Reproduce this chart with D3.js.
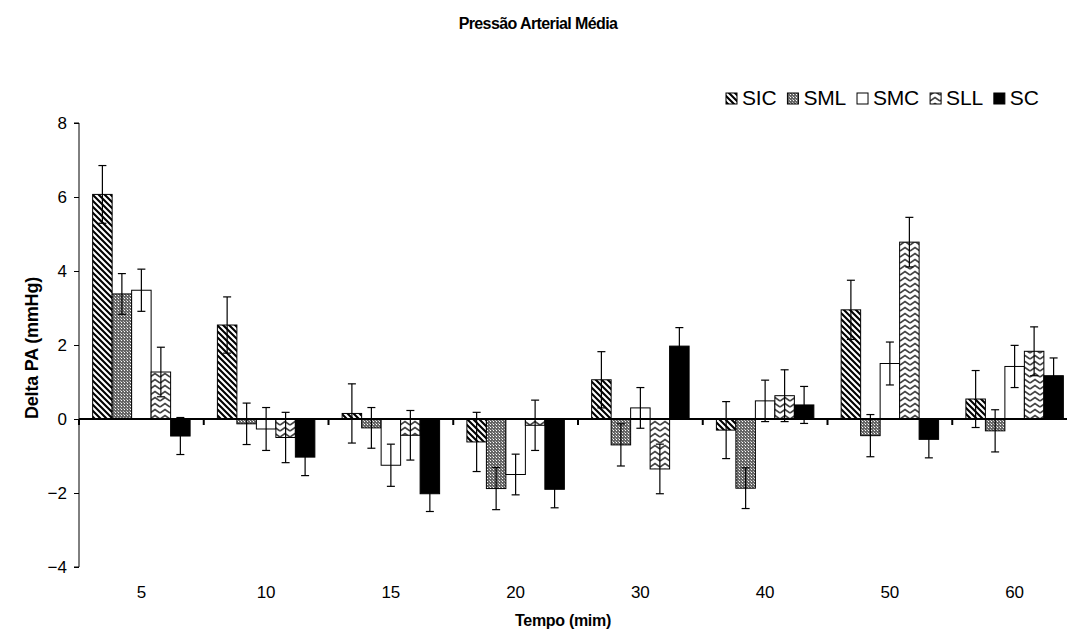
<!DOCTYPE html>
<html><head><meta charset="utf-8">
<script src="https://cdn.jsdelivr.net/npm/d3@7"></script>
<style>body{margin:0;background:#fff}svg{display:block;font-family:"Liberation Sans",Arial,sans-serif}</style>
</head><body><svg id="c" width="1067" height="631"></svg>
<script>
const categories = ["5","10","15","20","30","40","50","60"];
const seriesNames = ["SIC","SML","SMC","SLL","SC"];
const SIC = [6.07, 2.54, 0.15, -0.62, 1.06, -0.30, 2.95, 0.54];
const SML = [3.38, -0.13, -0.24, -1.88, -0.70, -1.87, -0.45, -0.32];
const SMC = [3.48, -0.27, -1.25, -1.50, 0.30, 0.49, 1.50, 1.42];
const SLL = [1.27, -0.50, -0.44, -0.17, -1.35, 0.63, 4.78, 1.83];
const SC  = [-0.46, -1.03, -2.02, -1.90, 1.97, 0.38, -0.55, 1.17];
const SIC_err = [0.78, 0.76, 0.80, 0.80, 0.76, 0.77, 0.80, 0.77];
const SML_err = [0.55, 0.56, 0.55, 0.57, 0.57, 0.55, 0.57, 0.57];
const SMC_err = [0.57, 0.58, 0.57, 0.55, 0.55, 0.56, 0.58, 0.57];
const SLL_err = [0.67, 0.68, 0.67, 0.68, 0.67, 0.70, 0.67, 0.66];
const SC_err  = [0.50, 0.50, 0.48, 0.50, 0.50, 0.50, 0.50, 0.48];
const yTicks = [-4,-2,0,2,4,6,8];
const titleText = "Pressão Arterial Média";
const xTitle = "Tempo (mim)";
const yTitle = "Delta PA (mmHg)";

const values = [SIC, SML, SMC, SLL, SC];
const errs = [SIC_err, SML_err, SMC_err, SLL_err, SC_err];

const svg = d3.select("#c");
const defs = svg.append("defs");
const pSIC = defs.append("pattern").attr("id","pSIC").attr("patternUnits","userSpaceOnUse").attr("width",6).attr("height",6);
pSIC.append("rect").attr("width",6).attr("height",6).attr("fill","#fff");
pSIC.append("path").attr("d","M-1,-1L7,7M-1,5L1,7M5,-1L7,1").attr("stroke","#000").attr("stroke-width",2.1);
const pSML = defs.append("pattern").attr("id","pSML").attr("patternUnits","userSpaceOnUse").attr("width",3).attr("height",3);
pSML.append("rect").attr("width",3).attr("height",3).attr("fill","#666");
pSML.append("rect").attr("x",1).attr("y",1).attr("width",1).attr("height",1).attr("fill","#fff");
pSML.append("rect").attr("x",0).attr("y",0).attr("width",1).attr("height",1).attr("fill","#bbb");
const pSLL = defs.append("pattern").attr("id","pSLL").attr("patternUnits","userSpaceOnUse").attr("width",10).attr("height",6);
pSLL.append("rect").attr("width",10).attr("height",6).attr("fill","#fff");
pSLL.append("path").attr("d","M0,5L5,1.5L10,5").attr("fill","none").attr("stroke","#444").attr("stroke-width",1.6);
const fills = ["url(#pSIC)","url(#pSML)","#fff","url(#pSLL)","#000"];

const x0 = d3.scaleBand().domain(categories).range([79,1077]).padding(0);
const x1 = d3.scaleBand().domain(seriesNames).range([0,x0.bandwidth()]).paddingInner(0).paddingOuter(0.7);
const y = d3.scaleLinear().domain([-4,8]).range([567,123]);

svg.append("text").attr("x",538).attr("y",29).attr("text-anchor","middle").attr("font-size",16).attr("font-weight","bold").attr("letter-spacing","-0.6").text(titleText);

const g = svg.append("g");
seriesNames.forEach((s,si)=>{
  g.selectAll(null).data(values[si]).join("rect")
    .attr("x",(d,i)=>x0(categories[i])+x1(s))
    .attr("y",d=>y(Math.max(0,d)))
    .attr("width",x1.bandwidth())
    .attr("height",d=>Math.abs(y(d)-y(0)))
    .attr("fill",fills[si]).attr("stroke","#000").attr("stroke-width",1);
});
seriesNames.forEach((s,si)=>{
  const eg = svg.append("g").attr("stroke","#000").attr("stroke-width",1.2);
  values[si].forEach((v,i)=>{
    const cx = x0(categories[i])+x1(s)+x1.bandwidth()/2;
    const e = errs[si][i];
    eg.append("line").attr("x1",cx).attr("x2",cx).attr("y1",y(v+e)).attr("y2",y(v-e));
    eg.append("line").attr("x1",cx-4).attr("x2",cx+4).attr("y1",y(v+e)).attr("y2",y(v+e));
    eg.append("line").attr("x1",cx-4).attr("x2",cx+4).attr("y1",y(v-e)).attr("y2",y(v-e));
  });
});

const ya = svg.append("g").attr("transform","translate(79,0)")
  .call(d3.axisLeft(y).tickValues(yTicks).tickSize(5).tickFormat(d3.format("d")));
ya.select(".domain").attr("stroke","#000").attr("d","M-5,"+y(8)+"H0V"+y(-4)+"H-5");
ya.selectAll("text").attr("font-size",17).attr("font-family","Liberation Sans, Arial, sans-serif").attr("x",-12).attr("fill","#000");
ya.selectAll("line").attr("stroke","#000");

const xa = svg.append("g").attr("transform","translate(0,"+y(0)+")");
xa.append("line").attr("x1",79).attr("x2",1077).attr("stroke","#000").attr("stroke-width",2);
categories.forEach(c=>{
  xa.append("line").attr("x1",x0(c)).attr("x2",x0(c)).attr("y1",0).attr("y2",6).attr("stroke","#000").attr("stroke-width",2);
});
svg.append("g").selectAll("text").data(categories).join("text")
  .attr("x",d=>x0(d)+x0.bandwidth()/2).attr("y",598).attr("text-anchor","middle").attr("font-size",17).text(d=>d);

svg.append("text").attr("x",563).attr("y",626).attr("text-anchor","middle").attr("font-size",16).attr("font-weight","bold").attr("letter-spacing","-0.3").text(xTitle);
svg.append("text").attr("transform","translate(38,348) rotate(-90)").attr("text-anchor","middle").attr("font-size",18).attr("font-weight","bold").attr("letter-spacing","-0.2").text(yTitle);

const lg = svg.append("g");
let lx = 726;
seriesNames.forEach((s,si)=>{
  lg.append("rect").attr("x",lx).attr("y",93).attr("width",11).attr("height",11).attr("fill",fills[si]).attr("stroke","#000");
  const t = lg.append("text").attr("x",lx+16).attr("y",105).attr("font-size",21).attr("letter-spacing","-0.2").text(s);
  lx += 16 + t.node().getComputedTextLength() + 11;
});
</script></body></html>
